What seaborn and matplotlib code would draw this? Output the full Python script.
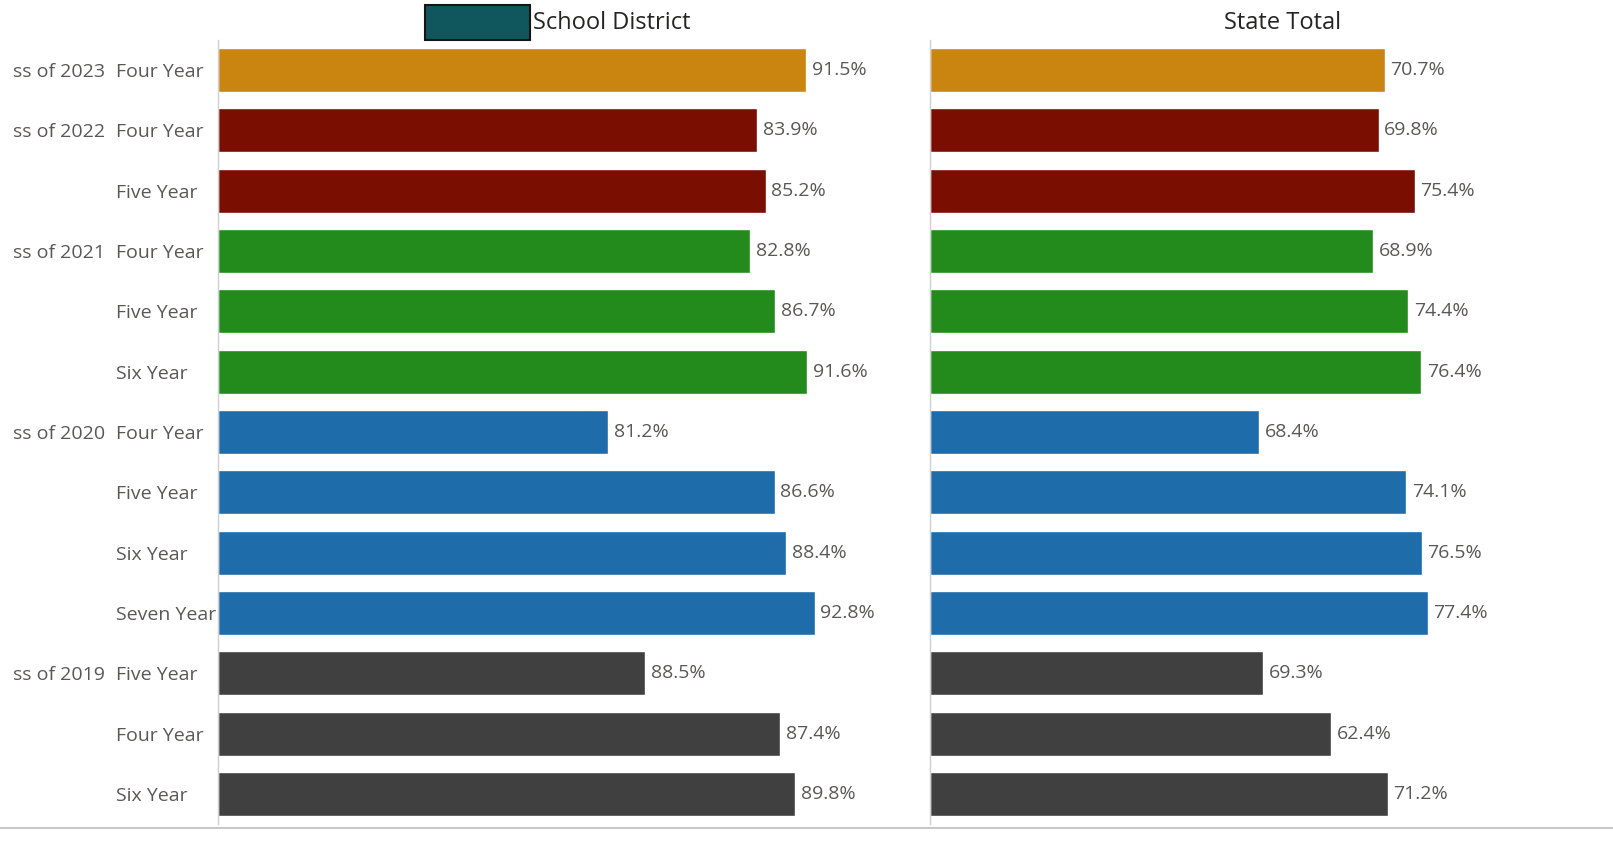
import pandas as pd
import seaborn as sns
import matplotlib.pyplot as plt
from matplotlib.patches import Rectangle
from matplotlib.lines import Line2D
from matplotlib.transforms import blended_transform_factory

# Chart data
# the class names are cut at the left edge in the reference, only this part is visible
cohort_class = ["ss of 2023", "ss of 2022", "ss of 2022", "ss of 2021", "ss of 2021",
                "ss of 2021", "ss of 2020", "ss of 2020", "ss of 2020", "ss of 2020",
                "ss of 2019", "ss of 2019", "ss of 2019"]
cohort_years = ["Four Year", "Four Year", "Five Year", "Four Year", "Five Year", "Six Year",
                "Four Year", "Five Year", "Six Year", "Seven Year", "Five Year", "Four Year", "Six Year"]

# rates shown as data labels
district_rate = [91.5, 83.9, 85.2, 82.8, 86.7, 91.6, 81.2, 86.6, 88.4, 92.8, 88.5, 87.4, 89.8]
state_rate = [70.7, 69.8, 75.4, 68.9, 74.4, 76.4, 68.4, 74.1, 76.5, 77.4, 69.3, 62.4, 71.2]

# bar lengths as drawn (two bars per panel do not match their labels)
district_bar = [91.5, 83.9, 85.2, 82.8, 86.7, 91.6, 60.7, 86.6, 88.4, 92.8, 66.4, 87.4, 89.8]
state_bar = [70.7, 69.8, 75.4, 68.9, 74.4, 76.4, 51.2, 74.1, 76.5, 77.4, 51.8, 62.4, 71.2]

class_colors = {"ss of 2023": "#CA8511", "ss of 2022": "#7A0E00", "ss of 2021": "#228B1B",
                "ss of 2020": "#1F6CAA", "ss of 2019": "#404040"}

panel_titles = ["School District", "State Total"]

sns.set_style("white")
plt.rcParams['font.family'] = ['Open Sans', 'DejaVu Sans']

df = pd.DataFrame({"cls": cohort_class, "cohort": cohort_years,
                   "district_bar": district_bar, "state_bar": state_bar,
                   "district_rate": district_rate, "state_rate": state_rate})
df["row"] = [f"{c}|{y}" for c, y in zip(df["cls"], df["cohort"])]
row_palette = {r: class_colors[c] for r, c in zip(df["row"], df["cls"])}

W, H = 1613, 855
fig = plt.figure(figsize=(W / 100, H / 100), dpi=100)

ax_w = 643 / W
ax_b = (H - 824) / H
ax_h = 784 / H
ax_left = fig.add_axes([218 / W, ax_b, ax_w, ax_h])
ax_right = fig.add_axes([930 / W, ax_b, ax_w, ax_h])

grey_txt = "#5A5856"

for ax, col, rate_col in [(ax_left, "district_bar", "district_rate"), (ax_right, "state_bar", "state_rate")]:
    sns.barplot(data=df, x=col, y="row", hue="row", order=list(df["row"]), hue_order=list(df["row"]),
                palette=row_palette, legend=False, width=0.73, saturation=1, ax=ax)
    ax.set_xlim(0, 100)
    ax.set_ylim(12.5, -0.5)
    for cont, val in zip(ax.containers, df[rate_col]):
        ax.bar_label(cont, labels=[f"{val:.1f}%"], padding=4, fontsize=14, color=grey_txt, clip_on=False)
    for s in ["top", "right", "bottom"]:
        ax.spines[s].set_visible(False)
    ax.spines["left"].set_color("#D0D0D0")
    ax.spines["left"].set_linewidth(1)
    ax.set_xticks([])
    ax.set_xlabel("")
    ax.set_ylabel("")
    ax.tick_params(axis="y", length=0)

# second level labels (cohort length)
ax_left.set_yticks(range(len(df)))
ax_left.set_yticklabels(df["cohort"], fontsize=14, color=grey_txt)
for lab in ax_left.get_yticklabels():
    lab.set_horizontalalignment("left")
ax_left.tick_params(axis="y", pad=(218 - 116) * 0.72)
ax_right.set_yticks([])

# first level labels (class), only on the first row of each class
tr = blended_transform_factory(fig.transFigure, ax_left.transData)
prev = None
for i, c in enumerate(df["cls"]):
    if c != prev:
        ax_left.text(105 / W, i, c, transform=tr, ha="right", va="center_baseline", fontsize=14,
                     color=grey_txt, clip_on=False)
    prev = c

# panel titles
fig.patches.append(Rectangle((425 / W, 1 - 40 / H), 105 / W, 35 / H, transform=fig.transFigure,
                             facecolor="#0F575C", edgecolor="#151515", linewidth=1.5))
fig.text(533 / W, 1 - 23 / H, panel_titles[0], ha="left", va="center", fontsize=17, color="#252423")
fig.text(1283 / W, 1 - 23 / H, panel_titles[1], ha="center", va="center", fontsize=17, color="#252423")

# bottom rule
fig.add_artist(Line2D([0, 1], [1 - 828 / H, 1 - 828 / H], transform=fig.transFigure,
                      color="#C8C8C8", linewidth=1.5))

fig.savefig("out.png", dpi=100)
